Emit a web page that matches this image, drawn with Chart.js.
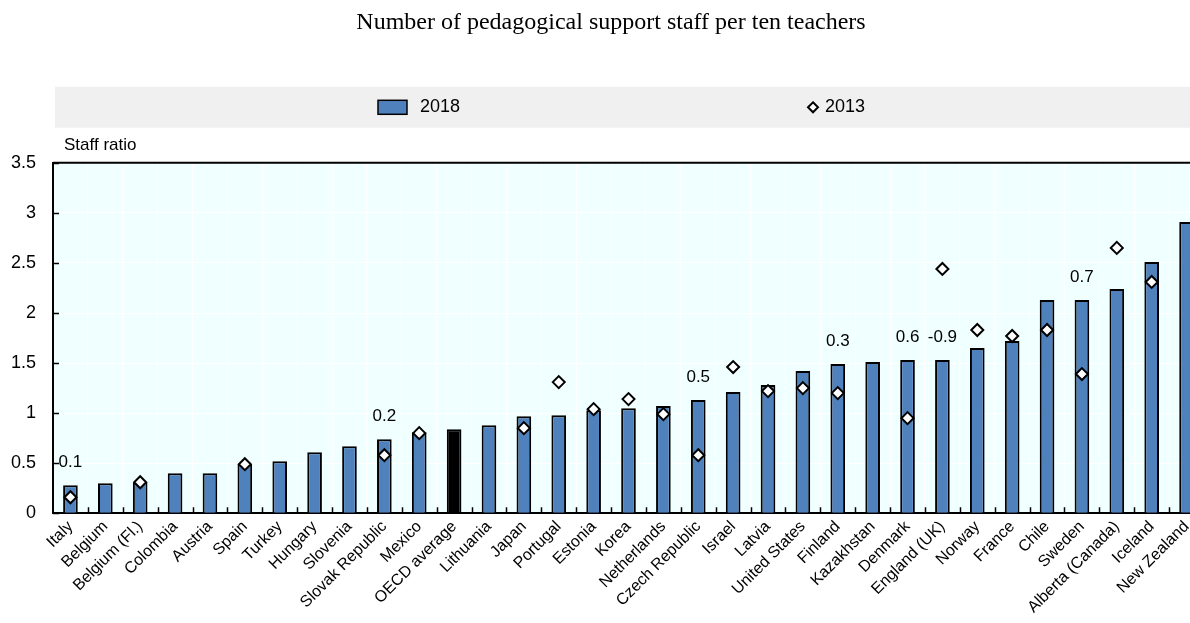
<!DOCTYPE html>
<html>
<head>
<meta charset="utf-8">
<script src="https://cdn.jsdelivr.net/npm/chart.js@4/dist/chart.umd.min.js"></script>
<style>
  html, body { margin: 0; padding: 0; background: #fff; overflow: hidden; }
</style>
</head>
<body>
<canvas id="staffChart" width="1212" height="623"></canvas>
<script>
const countries = [
  "Italy", "Belgium", "Belgium (Fl.)", "Colombia", "Austria", "Spain", "Turkey",
  "Hungary", "Slovenia", "Slovak Republic", "Mexico", "OECD average", "Lithuania",
  "Japan", "Portugal", "Estonia", "Korea", "Netherlands", "Czech Republic", "Israel",
  "Latvia", "United States", "Finland", "Kazakhstan", "Denmark", "England (UK)",
  "Norway", "France", "Chile", "Sweden", "Alberta (Canada)", "Iceland", "New Zealand"
];

const ratio2018 = [
  0.28, 0.30, 0.31, 0.40, 0.40, 0.49, 0.52, 0.61, 0.67, 0.74, 0.81, 0.84, 0.88,
  0.97, 0.98, 1.03, 1.05, 1.07, 1.13, 1.21, 1.28, 1.42, 1.49, 1.51, 1.53, 1.53,
  1.65, 1.72, 2.13, 2.13, 2.24, 2.51, 2.91
];

const ratio2013 = [
  0.16, null, 0.31, null, null, 0.49, null, null, null, 0.58, 0.80, null, null,
  0.85, 1.31, 1.04, 1.14, 0.99, 0.58, 1.46, 1.22, 1.25, 1.20, null, 0.95, 2.44,
  1.83, 1.77, 1.83, 1.39, 2.65, 2.31, null
];

// significant change 2013-2018, shown above the bar
const changeLabels = [
  "0.1", null, null, null, null, null, null, null, null, "0.2", null, null, null,
  null, null, null, null, null, "0.5", null, null, null, "0.3", null, "0.6", "-0.9",
  null, null, null, "0.7", null, null, null
];

const seriesNames = ["2018", "2013"];

const BLUE = "#4F81BD";
const SANS = "'Liberation Sans', Arial, sans-serif";

const barColors = countries.map(c => c === "OECD average" ? "#000000" : BLUE);

const decorPlugin = {
  id: "decor",
  beforeDraw(chart) {
    const { ctx, chartArea } = chart;
    ctx.save();
    // plot background
    ctx.fillStyle = "#F0FFFF";
    ctx.fillRect(chartArea.left, chartArea.top, chartArea.right - chartArea.left, chartArea.bottom - chartArea.top);

    // legend band
    const bandTop = chartArea.top - 76;
    const bandH = 41;
    const midY = bandTop + bandH / 2;
    ctx.fillStyle = "#F0F0F0";
    ctx.fillRect(chartArea.left + 2, bandTop, chart.width, bandH);

    ctx.fillStyle = BLUE;
    ctx.strokeStyle = "#000";
    ctx.lineWidth = 1.5;
    ctx.fillRect(378, midY - 7, 29, 14);
    ctx.strokeRect(378, midY - 7, 29, 14);

    ctx.fillStyle = "#fff";
    ctx.lineWidth = 2;
    ctx.beginPath();
    ctx.moveTo(813, midY - 5);
    ctx.lineTo(818, midY);
    ctx.lineTo(813, midY + 5);
    ctx.lineTo(808, midY);
    ctx.closePath();
    ctx.fill();
    ctx.stroke();

    ctx.fillStyle = "#000";
    ctx.font = "18px " + SANS;
    ctx.textBaseline = "middle";
    ctx.textAlign = "left";
    ctx.fillText(seriesNames[0], 420, midY);
    ctx.fillText(seriesNames[1], 825, midY);

    // axis title
    ctx.font = "17px " + SANS;
    ctx.fillText("Staff ratio", chartArea.left + 11, chartArea.top - 17);
    ctx.restore();
  },
  afterDatasetsDraw(chart) {
    const { ctx, chartArea, scales } = chart;
    const x = scales.x, y = scales.y;
    ctx.save();
    ctx.strokeStyle = "#000";
    ctx.lineWidth = 2;
    // top frame line
    ctx.beginPath();
    ctx.moveTo(chartArea.left, chartArea.top);
    ctx.lineTo(chartArea.right, chartArea.top);
    ctx.stroke();

    // inward ticks on the category axis
    const step = x.getPixelForValue(1) - x.getPixelForValue(0);
    ctx.lineWidth = 1.5;
    ctx.beginPath();
    for (let i = 1; i < countries.length; i++) {
      const px = Math.round(x.getPixelForValue(i) - step / 2) + 0.5;
      ctx.moveTo(px, chartArea.bottom);
      ctx.lineTo(px, chartArea.bottom - 6);
    }
    // inward ticks on the value axis
    y.ticks.forEach(t => {
      const py = Math.round(y.getPixelForValue(t.value)) + 0.5;
      ctx.moveTo(chartArea.left, py);
      ctx.lineTo(chartArea.left + 6, py);
    });
    ctx.stroke();

    // change labels
    ctx.fillStyle = "#000";
    ctx.font = "17px " + SANS;
    ctx.textAlign = "center";
    ctx.textBaseline = "middle";
    changeLabels.forEach((lab, i) => {
      if (!lab) return;
      ctx.fillText(lab, x.getPixelForValue(i), y.getPixelForValue(ratio2018[i]) - 23);
    });
    ctx.restore();
  }
};

const ctx = document.getElementById("staffChart");

new Chart(ctx, {
  type: "bar",
  data: {
    labels: countries,
    datasets: [
      {
        type: "line",
        label: seriesNames[1],
        data: ratio2013,
        showLine: false,
        pointStyle: "rectRot",
        pointRadius: 6,
        pointBackgroundColor: "#ffffff",
        pointBorderColor: "#000000",
        pointBorderWidth: 2,
        order: 0
      },
      {
        label: seriesNames[0],
        data: ratio2018,
        backgroundColor: barColors,
        borderColor: "#000000",
        borderWidth: 2,
        barPercentage: 0.42,
        categoryPercentage: 1,
        order: 1
      }
    ]
  },
  options: {
    responsive: false,
    animation: false,
    layout: { padding: { left: 11, right: 1, bottom: 2 } },
    plugins: {
      legend: { display: false },
      tooltip: { enabled: false },
      title: {
        display: true,
        text: "Number of pedagogical support staff per ten teachers",
        color: "#000",
        font: { family: "'Liberation Serif', 'Times New Roman', serif", size: 24, weight: "normal" },
        padding: { top: 8, bottom: 126 }
      }
    },
    scales: {
      x: {
        grid: { color: "#ffffff", lineWidth: 1, drawTicks: false, offset: true },
        border: { color: "#000", width: 2 },
        afterFit(scale) {
          // let the rotated labels hang past the plot edges like the original
          scale.paddingLeft = 0;
          scale.paddingRight = 0;
        },
        ticks: {
          autoSkip: false,
          minRotation: 45,
          maxRotation: 45,
          padding: 4,
          color: "#000",
          font: { family: SANS, size: 16 }
        }
      },
      y: {
        min: 0,
        max: 3.5,
        grid: { color: "#ffffff", lineWidth: 1, drawTicks: false },
        border: { color: "#000", width: 2 },
        afterFit(scale) {
          scale.width = 42;
        },
        ticks: {
          stepSize: 0.5,
          padding: 17,
          color: "#000",
          font: { family: SANS, size: 18 },
          callback: v => String(v)
        }
      }
    }
  },
  plugins: [decorPlugin]
});
</script>
</body>
</html>
